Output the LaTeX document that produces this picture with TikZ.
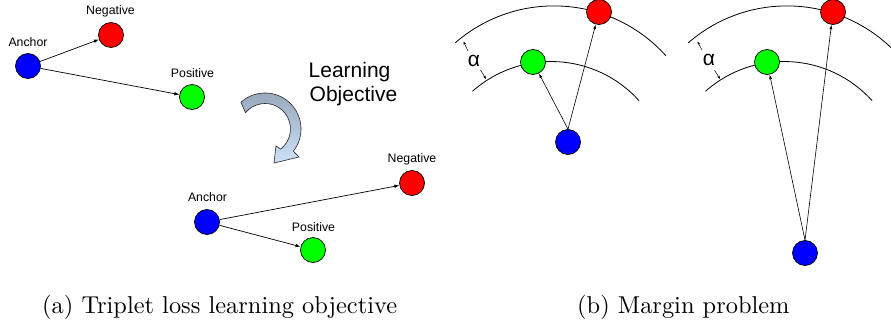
\documentclass[tikz,border=0pt]{standalone}
\usepackage{fontspec}
\usepackage{graphicx}
\newfontfamily\sansf{Liberation Sans}
\usetikzlibrary{arrows.meta,calc}
\definecolor{nodered}{RGB}{255,0,0}
\definecolor{nodegreen}{RGB}{0,255,0}
\definecolor{nodeblue}{RGB}{0,0,255}
\definecolor{curvtop}{RGB}{150,165,185}
\definecolor{curvbot}{RGB}{205,225,248}
\begin{document}
\begin{tikzpicture}[x=1pt,y=-1pt,
  dot/.style={circle,draw=black,line width=0.7pt,minimum size=25pt,inner sep=0pt},
  lbl/.style={font=\sansf\fontsize{12.3}{14}\selectfont,anchor=base,inner sep=0pt},
  conn/.style={line width=0.7pt,-{Latex[length=5pt,width=3.5pt]}},
  conntwo/.style={line width=0.6pt,-{Latex[length=4.5pt,width=3pt]}},
  dimarrow/.style={line width=0.5pt,-{Stealth[length=3.5pt,width=2.5pt]}},
  arcline/.style={line width=0.8pt},
  learnfont/.style={font=\sansf\fontsize{21}{24}\selectfont,anchor=base west,inner sep=0pt},
  capfont/.style={font=\fontsize{10}{12}\selectfont,anchor=base west,inner sep=0pt},
  alphafont/.style={font=\sansf\fontsize{21}{24}\selectfont,inner sep=0pt}]
\useasboundingbox (0,0) rectangle (891,324);

% ---------- panel (a): before ----------
\node[dot,fill=nodeblue] (a1) at (28,66) {};
\node[dot,fill=nodered] (n1) at (111,35) {};
\node[dot,fill=nodegreen] (p1) at (192,97) {};
\node[lbl] (la1) at (28,46.5) {Anchor};
\node[lbl] (ln1) at (110.5,14) {Negative};
\node[lbl] (lp1) at (192.5,77) {Positive};
\draw[conn] (a1) -- (n1);
\draw[conn] (a1) -- (p1);

% ---------- learning objective ----------
\node[learnfont] (learn1) at (308.5,77) {Learning};
\node[learnfont] (learn2) at (309.5,101) {Objective};
\coordinate (cc) at (265,129);
\draw[line width=0.6pt,draw=black!85,top color=curvtop,bottom color=curvbot]
  ($(cc)+(-132:36)$) arc[start angle=-132,end angle=38,radius=36]
  -- (299,157) -- (274,163) -- (276,146)
  -- ($(cc)+(52:25.5)$) arc[start angle=52,end angle=-140,radius=25.5] -- cycle;

% ---------- panel (a): after ----------
\node[dot,fill=nodeblue] (a2) at (207,222) {};
\node[dot,fill=nodered] (n2) at (412,183) {};
\node[dot,fill=nodegreen] (p2) at (313,250) {};
\node[lbl] (la2) at (207.5,201.7) {Anchor};
\node[lbl] (ln2) at (412,162) {Negative};
\node[lbl] (lp2) at (313.5,231.7) {Positive};
\draw[conn] (a2) -- (n2);
\draw[conn] (a2) -- (p2);

% ---------- panel (b): first ----------
\coordinate (co1) at (554,156.4);
\coordinate (ci1) at (551,180);
\draw[arcline] (co1) ++(-131:150.5) arc[start angle=-131,end angle=-42,radius=150.5];
\draw[arcline] (ci1) ++(-131.5:118.5) arc[start angle=-131.5,end angle=-42,radius=118.5];
\node[dot,fill=nodeblue] (bb1) at (568,142) {};
\node[dot,fill=nodered] (br1) at (599,12) {};
\node[dot,fill=nodegreen] (bg1) at (533,62) {};
\draw[conntwo] (bb1.north) -- (bg1);
\draw[conntwo] (bb1.north) -- (br1);
\node[alphafont] (alpha1) at (474,61) {α};
\coordinate (d1s) at (468,51);
\coordinate (d1t) at (463.5,41.5);
\coordinate (d2s) at (480.5,70);
\coordinate (d2t) at (486,79);
\draw[dimarrow] (d1s) -- (d1t);
\draw[dimarrow] (d2s) -- (d2t);

% ---------- panel (b): second ----------
\coordinate (co2) at (787,156.4);
\coordinate (ci2) at (784,180);
\draw[arcline] (co2) ++(-131:150.5) arc[start angle=-131,end angle=-46.3,radius=150.5];
\draw[arcline] (ci2) ++(-131.5:118.5) arc[start angle=-131.5,end angle=-42,radius=118.5];
\node[dot,fill=nodeblue] (bb2) at (805,253) {};
\node[dot,fill=nodered] (br2) at (833,12) {};
\node[dot,fill=nodegreen] (bg2) at (767,62) {};
\draw[conntwo] (bb2.north) -- (bg2);
\draw[conntwo] (bb2.north) -- (br2);
\node[alphafont] (alpha2) at (709,60) {α};
\coordinate (e1s) at (702,50);
\coordinate (e1t) at (697.5,41.5);
\coordinate (e2s) at (714.5,70);
\coordinate (e2t) at (720,79);
\draw[dimarrow] (e1s) -- (e1t);
\draw[dimarrow] (e2s) -- (e2t);

% ---------- captions ----------
\node[capfont] (capa) at (42,313) {\scalebox{2.44}{(a) Triplet loss learning objective}};
\node[capfont] (capb) at (577,313) {\scalebox{2.44}{(b) Margin problem}};
\end{tikzpicture}
\end{document}
